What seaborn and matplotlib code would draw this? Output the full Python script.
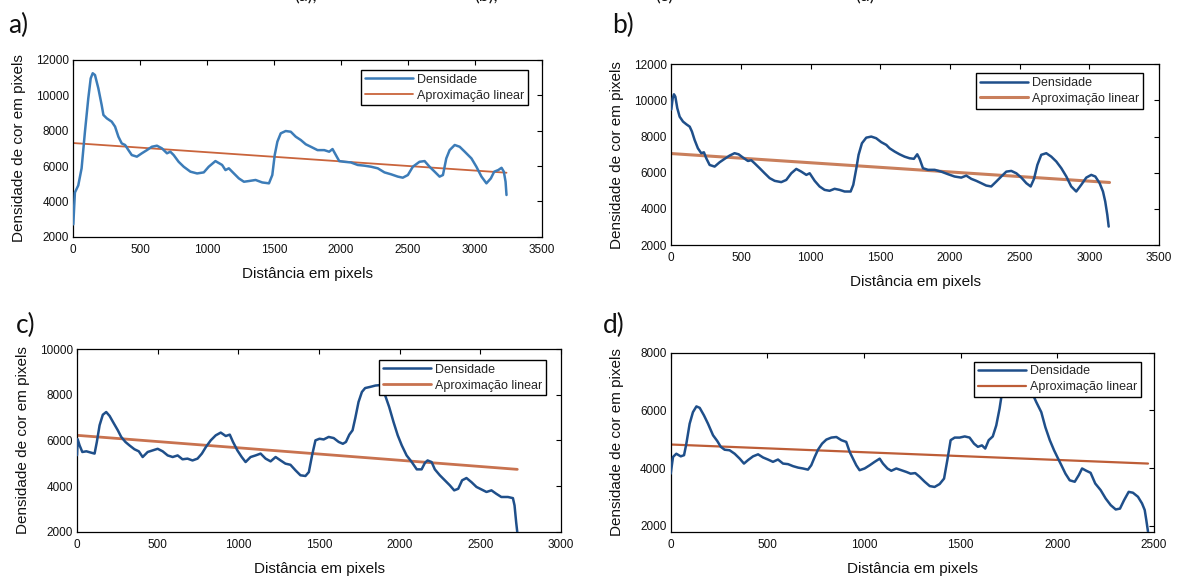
import matplotlib
matplotlib.use("Agg")
import matplotlib.pyplot as plt
import seaborn as sns

sns.set_theme(style="white")
plt.rcParams["font.family"] = ["Liberation Sans", "DejaVu Sans"]

# ---------------------------------------------------------------- data
dist_a = [0, 12, 37, 62, 87, 112, 130, 145, 162, 187, 212, 225, 250, 287, 312, 337,
          362, 387, 412, 437, 475, 512, 550, 587, 625, 662, 700, 725, 750, 787, 825,
          875, 925, 975, 1012, 1062, 1112, 1137, 1162, 1200, 1237, 1275, 1312, 1362,
          1412, 1462, 1487, 1505, 1525, 1550, 1587, 1625, 1662, 1700, 1737, 1775, 1825,
          1875, 1912, 1937, 1962, 1987, 2025, 2075, 2125, 2175, 2225, 2275, 2325, 2375,
          2425, 2462, 2500, 2537, 2587, 2625, 2662, 2700, 2737, 2762, 2787, 2812, 2850,
          2887, 2925, 2975, 3012, 3050, 3087, 3120, 3145, 3175, 3200, 3217, 3230, 3237]
dens_a = [2700, 4500, 4900, 5870, 7940, 9830, 10960, 11250, 11150, 10400, 9450, 8890,
          8700, 8510, 8230, 7660, 7280, 7190, 6900, 6620, 6530, 6720, 6900, 7090, 7150,
          7000, 6720, 6810, 6620, 6240, 5960, 5680, 5580, 5640, 5960, 6280, 6060, 5770,
          5870, 5580, 5300, 5110, 5150, 5210, 5070, 5020, 5490, 6620, 7380, 7850, 7980,
          7940, 7660, 7470, 7230, 7090, 6900, 6900, 6810, 6960, 6620, 6280, 6240, 6200,
          6060, 6020, 5960, 5870, 5640, 5530, 5400, 5340, 5490, 5960, 6240, 6280, 5960,
          5680, 5400, 5490, 6430, 6900, 7190, 7090, 6810, 6430, 5960, 5400, 5020, 5300,
          5680, 5770, 5900, 5680, 5110, 4360]
fit_a_x = [0, 3237]
fit_a_y = [7300, 5620]

dist_b = [0, 10, 19, 29, 43, 60, 84, 108, 132, 148, 167, 191, 215, 234, 251, 275, 311,
          347, 383, 419, 454, 483, 514, 550, 574, 598, 634, 670, 706, 742, 789, 825, 861,
          897, 933, 969, 993, 1029, 1064, 1100, 1136, 1172, 1208, 1244, 1287, 1306, 1328,
          1344, 1368, 1399, 1435, 1470, 1507, 1543, 1567, 1603, 1638, 1674, 1710, 1741,
          1765, 1782, 1806, 1842, 1890, 1937, 1985, 2033, 2081, 2117, 2153, 2189, 2225,
          2260, 2296, 2332, 2368, 2404, 2440, 2476, 2512, 2548, 2579, 2603, 2627, 2655,
          2691, 2727, 2763, 2799, 2835, 2870, 2906, 2942, 2978, 3014, 3043, 3074, 3098,
          3114, 3129, 3139]
dens_b = [9500, 10120, 10340, 10210, 9570, 9100, 8830, 8680, 8550, 8280, 7820, 7350,
          7080, 7130, 6800, 6430, 6340, 6580, 6770, 6950, 7080, 7020, 6840, 6650, 6690,
          6520, 6250, 5970, 5700, 5550, 5480, 5600, 5970, 6210, 6060, 5880, 5970, 5550,
          5240, 5050, 5000, 5110, 5050, 4960, 4960, 5330, 6250, 6990, 7630, 7940, 8000,
          7910, 7690, 7540, 7350, 7170, 7020, 6890, 6800, 6770, 7020, 6770, 6250, 6160,
          6160, 6060, 5920, 5790, 5730, 5840, 5660, 5550, 5420, 5290, 5240, 5510, 5790,
          6060, 6100, 5970, 5730, 5420, 5240, 5660, 6430, 6990, 7080, 6890, 6620, 6250,
          5790, 5240, 4960, 5330, 5730, 5880, 5790, 5420, 4960, 4410, 3670, 3020]
fit_b_x = [0, 3145]
fit_b_y = [7060, 5460]

dist_c = [0, 4, 16, 33, 58, 88, 109, 123, 140, 160, 181, 202, 226, 253, 274, 300, 325,
          356, 383, 407, 438, 469, 500, 531, 562, 593, 624, 654, 685, 716, 747, 774, 799,
          829, 860, 891, 922, 947, 967, 994, 1021, 1045, 1076, 1107, 1138, 1169, 1200,
          1231, 1262, 1292, 1323, 1354, 1385, 1416, 1437, 1457, 1478, 1503, 1529, 1560,
          1591, 1622, 1648, 1667, 1688, 1708, 1725, 1745, 1766, 1786, 1817, 1850, 1880,
          1900, 1910, 1935, 1962, 1988, 2013, 2043, 2075, 2106, 2136, 2157, 2173, 2198,
          2218, 2249, 2280, 2311, 2338, 2363, 2387, 2414, 2445, 2476, 2507, 2538, 2569,
          2599, 2630, 2671, 2702, 2712, 2722, 2729]
dens_c = [5350, 6050, 5780, 5490, 5520, 5460, 5420, 5930, 6660, 7120, 7240, 7070, 6770,
          6440, 6150, 5930, 5780, 5610, 5520, 5270, 5490, 5560, 5630, 5520, 5340, 5270,
          5340, 5170, 5200, 5120, 5200, 5420, 5710, 6000, 6220, 6340, 6190, 6250, 5930,
          5560, 5270, 5050, 5270, 5340, 5420, 5200, 5080, 5270, 5120, 4980, 4930, 4690,
          4470, 4440, 4610, 5340, 6000, 6070, 6040, 6150, 6100, 5930, 5850, 5930, 6250,
          6440, 6980, 7680, 8120, 8290, 8340, 8400, 8420, 8250, 7970, 7460, 6800, 6220,
          5780, 5340, 5050, 4730, 4730, 5020, 5120, 5050, 4730, 4470, 4250, 4030, 3810,
          3880, 4250, 4350, 4170, 3960, 3850, 3740, 3810, 3660, 3520, 3520, 3470, 3150,
          2420, 1980]
fit_c_x = [0, 2729]
fit_c_y = [6220, 4730]

dist_d = [0, 12, 29, 52, 69, 81, 98, 115, 133, 150, 172, 193, 219, 241, 259, 279, 305,
          331, 357, 379, 400, 426, 452, 478, 503, 529, 555, 581, 607, 633, 659, 684, 710,
          727, 745, 762, 783, 805, 831, 857, 883, 908, 926, 943, 960, 977, 1003, 1029,
          1055, 1081, 1098, 1121, 1141, 1167, 1193, 1219, 1241, 1265, 1288, 1314, 1340,
          1365, 1391, 1414, 1431, 1448, 1469, 1495, 1521, 1546, 1569, 1589, 1610, 1627,
          1645, 1666, 1684, 1701, 1713, 1727, 1745, 1780, 1820, 1850, 1870, 1891, 1917,
          1938, 1961, 1983, 2004, 2021, 2042, 2064, 2090, 2111, 2128, 2150, 2172, 2196,
          2224, 2250, 2276, 2302, 2324, 2345, 2369, 2391, 2417, 2438, 2452, 2460, 2469]
dens_d = [3810, 4390, 4500, 4410, 4450, 4850, 5540, 5940, 6140, 6090, 5830, 5540, 5140,
          4940, 4740, 4640, 4620, 4500, 4330, 4160, 4280, 4410, 4480, 4370, 4300, 4220,
          4300, 4160, 4140, 4070, 4020, 3990, 3950, 4100, 4390, 4640, 4850, 4990, 5060,
          5080, 4970, 4910, 4560, 4330, 4100, 3930, 3990, 4100, 4220, 4330, 4160, 3990,
          3910, 3990, 3930, 3870, 3810, 3830, 3700, 3530, 3380, 3350, 3450, 3640, 4280,
          4970, 5060, 5060, 5100, 5060, 4850, 4740, 4790, 4680, 4970, 5100, 5480, 6060,
          6580, 7040, 7350, 7500, 7450, 7000, 6600, 6290, 5940, 5420, 4970, 4620, 4330,
          4100, 3810, 3580, 3530, 3760, 3990, 3910, 3840, 3470, 3240, 2950, 2720, 2570,
          2600, 2890, 3180, 3150, 3010, 2780, 2550, 2210, 1800]
fit_d_x = [0, 2469]
fit_d_y = [4820, 4160]

series_label = "Densidade"
fit_label = "Aproximação linear"
x_label = "Distância em pixels"
y_label = "Densidade de cor em pixels"
panel_letters = ["a)", "b)", "c)", "d)"]
caption_bits = ["(a),", "(b),", "(c)", "(d)"]

# ---------------------------------------------------------------- layout
W, H = 1181, 579
fig = plt.figure(figsize=(W / 100, H / 100), dpi=100)
fig.patch.set_facecolor("white")


def px_rect(left, top, right, bottom):
    return [left / W, 1 - bottom / H, (right - left) / W, (bottom - top) / H]


panels = [
    dict(rect=(73.3, 60, 541.7, 236.7), x=dist_a, y=dens_a, fx=fit_a_x, fy=fit_a_y,
         xlim=(0, 3500), xstep=500, ylim=(2000, 12000), yticks=range(2000, 12001, 2000),
         c="#3c7cb8", fc="#c9643c", flw=1.3, leg=(528, 70), letter=(8, 33)),
    dict(rect=(671.3, 64.3, 1159, 245), x=dist_b, y=dens_b, fx=fit_b_x, fy=fit_b_y,
         xlim=(0, 3500), xstep=500, ylim=(2000, 12000), yticks=range(2000, 12001, 2000),
         c="#1f4f8a", fc="#c97f5c", flw=2.2, leg=(1143, 73.3), letter=(612, 33)),
    dict(rect=(77, 349, 561, 531.7), x=dist_c, y=dens_c, fx=fit_c_x, fy=fit_c_y,
         xlim=(0, 3000), xstep=500, ylim=(2000, 10000), yticks=range(2000, 10001, 2000),
         c="#1f4f8a", fc="#c8724f", flw=2.0, leg=(546, 360), letter=(16, 333)),
    dict(rect=(670.7, 352.7, 1154, 531.7), x=dist_d, y=dens_d, fx=fit_d_x, fy=fit_d_y,
         xlim=(0, 2500), xstep=500, ylim=(1800, 8000), yticks=range(2000, 8001, 2000),
         c="#1f4f8a", fc="#bd5d37", flw=1.6, leg=(1141, 361.7), letter=(603, 333)),
]

for p, letter in zip(panels, panel_letters):
    l, t, r, b = p["rect"]
    ax = fig.add_axes(px_rect(l, t, r, b))
    aw, ah = r - l, b - t

    sns.lineplot(x=p["x"], y=p["y"], ax=ax, color=p["c"], lw=1.8,
                 label=series_label, estimator=None, sort=False, zorder=3)
    sns.lineplot(x=p["fx"], y=p["fy"], ax=ax, color=p["fc"], lw=p["flw"],
                 label=fit_label, estimator=None, sort=False, zorder=2)

    ax.set_xlim(*p["xlim"])
    ax.set_ylim(*p["ylim"])
    ax.set_xticks(range(p["xlim"][0], p["xlim"][1] + 1, p["xstep"]))
    ax.set_yticks(list(p["yticks"]))
    ax.tick_params(direction="in", length=3.5, width=0.8, top=True, right=True,
                   labelsize=8.5, pad=3, colors="black", labelcolor="#111111")
    ax.tick_params(axis="x", pad=5)
    for s in ax.spines.values():
        s.set_visible(True)
        s.set_color("black")
        s.set_linewidth(0.9)
    ax.set_facecolor("white")

    ax.set_xlabel(x_label, fontsize=11, color="#111111")
    ax.set_ylabel(y_label, fontsize=11, color="#111111")
    ax.xaxis.set_label_coords(0.5, -30 / ah)
    ax.yaxis.set_label_coords(-47 / aw, 0.5)

    lx, ly = p["leg"]
    leg = ax.legend(loc="upper right",
                    bbox_to_anchor=((lx - l) / aw, 1 - (ly - t) / ah),
                    borderaxespad=0, frameon=True, fancybox=False, shadow=False,
                    edgecolor="black", facecolor="white", framealpha=1,
                    fontsize=9, handlelength=3.9, handletextpad=0.3,
                    borderpad=0.3, labelspacing=0.3)
    leg.get_frame().set_linewidth(1.0)
    leg.set_zorder(5)

    fig.text(p["letter"][0] / W, 1 - p["letter"][1] / H, letter,
             fontsize=19, family=["Lato", "DejaVu Sans"], color="#111111",
             ha="left", va="baseline")

# remnants of the caption line running off the top edge
for xpx, txt in zip([294, 474, 655, 855], caption_bits):
    fig.text(xpx / W, 1 - 1.5 / H, txt, fontsize=13, family=["Lato", "DejaVu Sans"],
             color="#111111", ha="left", va="baseline")

fig.savefig("out.png", dpi=100, facecolor="white")
